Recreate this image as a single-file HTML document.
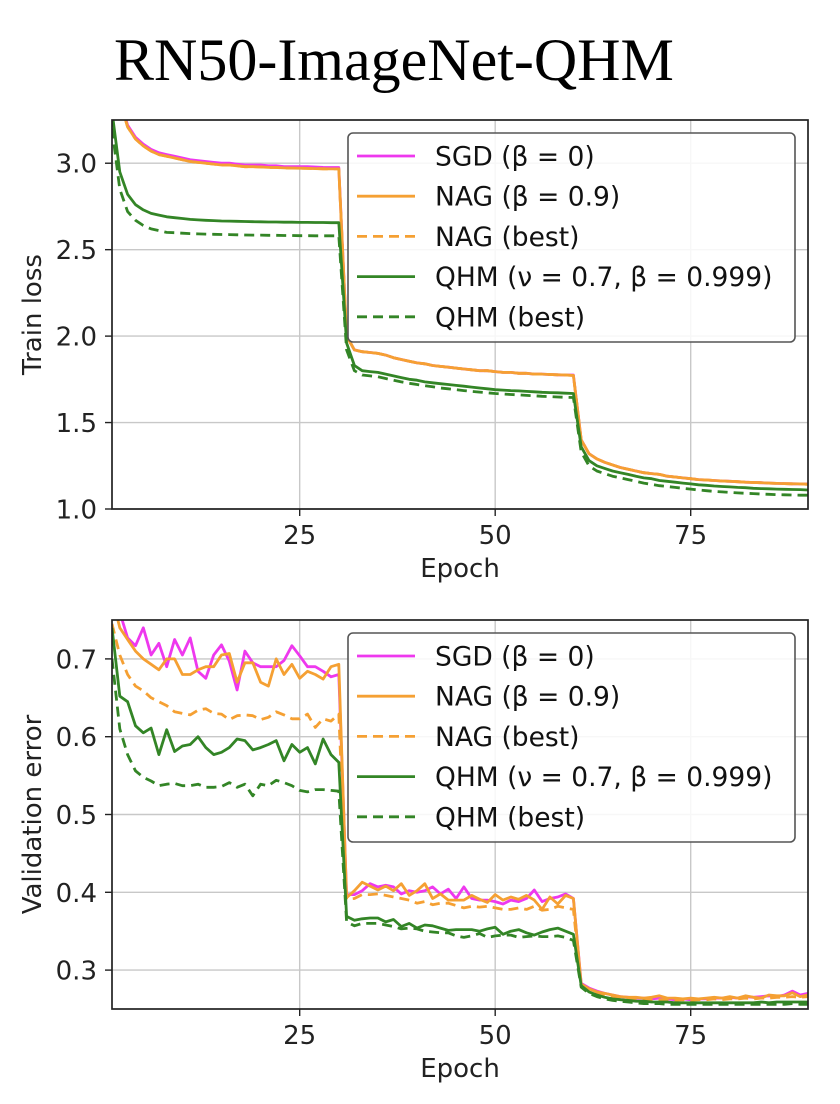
<!DOCTYPE html>
<html><head><meta charset="utf-8">
<style>
html,body{margin:0;padding:0;background:#fff;}
svg{display:block;font-family:"DejaVu Sans","Liberation Sans",sans-serif;}
</style></head>
<body>
<svg id="root" width="840" height="1104" viewBox="0 0 840 1104" xmlns="http://www.w3.org/2000/svg">
<text x="114" y="80" font-family="Liberation Serif, serif" font-size="60" fill="#000">RN50-ImageNet-QHM</text>
</svg>
<script>
const epochs = Array.from({length:90},(_,i)=>i+1);
const seriesNames = ["SGD (β = 0)","NAG (β = 0.9)","NAG (best)","QHM (ν = 0.7, β = 0.999)","QHM (best)"];
const trainTicks = [1.0,1.5,2.0,2.5,3.0];
const valTicks = [0.3,0.4,0.5,0.6,0.7];
const xTicks = [25,50,75];

const trainSGD = [3.9,3.38,3.22,3.15,3.11,3.08,3.06,3.05,3.04,3.03,3.02,3.015,3.01,3.005,3.0,3.0,2.995,2.99,2.99,2.99,2.985,2.985,2.98,2.98,2.98,2.98,2.978,2.976,2.975,2.975,
2.0,1.92,1.91,1.905,1.9,1.89,1.875,1.865,1.855,1.845,1.84,1.83,1.825,1.82,1.815,1.81,1.805,1.8,1.8,1.795,1.79,1.79,1.785,1.785,1.78,1.78,1.778,1.776,1.775,1.775,
1.4,1.32,1.29,1.27,1.255,1.24,1.23,1.22,1.21,1.205,1.2,1.19,1.185,1.18,1.175,1.17,1.168,1.165,1.162,1.16,1.158,1.155,1.153,1.152,1.15,1.148,1.147,1.146,1.145,1.145];
const trainNAG = [3.88,3.36,3.21,3.14,3.1,3.07,3.05,3.04,3.03,3.02,3.01,3.005,3.0,2.995,2.99,2.99,2.985,2.98,2.98,2.978,2.976,2.975,2.973,2.972,2.971,2.97,2.969,2.968,2.967,2.967,
2.0,1.92,1.91,1.905,1.9,1.89,1.875,1.865,1.855,1.845,1.84,1.83,1.825,1.82,1.815,1.81,1.805,1.8,1.8,1.795,1.79,1.79,1.785,1.785,1.78,1.78,1.778,1.776,1.775,1.772,
1.4,1.32,1.29,1.27,1.255,1.24,1.23,1.22,1.21,1.205,1.2,1.19,1.185,1.18,1.175,1.17,1.168,1.165,1.162,1.16,1.158,1.155,1.153,1.152,1.15,1.148,1.147,1.146,1.145,1.143];
const trainNAGBest = [3.88,3.36,3.21,3.14,3.1,3.07,3.05,3.04,3.03,3.02,3.01,3.005,3.0,2.995,2.99,2.99,2.985,2.98,2.98,2.978,2.976,2.975,2.973,2.972,2.971,2.97,2.969,2.968,2.967,2.967,
2.0,1.92,1.91,1.905,1.9,1.89,1.875,1.865,1.855,1.845,1.84,1.83,1.825,1.82,1.815,1.81,1.805,1.8,1.8,1.795,1.79,1.79,1.785,1.785,1.78,1.78,1.778,1.776,1.775,1.772,
1.4,1.32,1.29,1.27,1.255,1.24,1.23,1.22,1.21,1.205,1.2,1.19,1.185,1.18,1.175,1.17,1.168,1.165,1.162,1.16,1.158,1.155,1.153,1.152,1.15,1.148,1.147,1.146,1.145,1.143];
const trainQHM = [3.3,2.95,2.82,2.76,2.73,2.71,2.7,2.69,2.685,2.68,2.675,2.672,2.67,2.668,2.666,2.665,2.664,2.663,2.662,2.661,2.66,2.66,2.659,2.659,2.658,2.658,2.657,2.657,2.656,2.656,
1.96,1.83,1.8,1.795,1.79,1.78,1.77,1.76,1.75,1.745,1.735,1.73,1.725,1.72,1.715,1.71,1.705,1.7,1.695,1.69,1.688,1.685,1.683,1.68,1.678,1.675,1.673,1.672,1.67,1.668,
1.36,1.28,1.25,1.235,1.22,1.21,1.2,1.19,1.18,1.175,1.165,1.16,1.155,1.15,1.145,1.14,1.137,1.133,1.13,1.128,1.125,1.123,1.12,1.118,1.117,1.115,1.114,1.113,1.112,1.11];
const trainQHMBest = [3.2,2.85,2.72,2.67,2.64,2.62,2.61,2.6,2.598,2.595,2.593,2.591,2.59,2.589,2.588,2.587,2.586,2.585,2.584,2.584,2.583,2.583,2.582,2.582,2.581,2.581,2.58,2.58,2.58,2.58,
1.92,1.8,1.775,1.77,1.765,1.755,1.745,1.735,1.727,1.72,1.713,1.707,1.7,1.695,1.69,1.685,1.68,1.676,1.672,1.668,1.665,1.662,1.66,1.657,1.655,1.652,1.65,1.648,1.646,1.645,
1.33,1.25,1.22,1.205,1.19,1.18,1.17,1.16,1.15,1.142,1.135,1.13,1.125,1.12,1.115,1.11,1.106,1.102,1.099,1.096,1.093,1.091,1.089,1.087,1.085,1.083,1.082,1.081,1.08,1.08];

const valSGD = [0.8,0.76,0.727,0.717,0.74,0.705,0.72,0.69,0.725,0.705,0.727,0.684,0.675,0.705,0.718,0.697,0.66,0.71,0.695,0.69,0.69,0.69,0.698,0.717,0.704,0.69,0.69,0.684,0.677,0.68,
0.397,0.397,0.402,0.411,0.407,0.409,0.407,0.398,0.402,0.4,0.402,0.407,0.398,0.404,0.392,0.407,0.392,0.39,0.39,0.388,0.385,0.39,0.388,0.392,0.403,0.388,0.392,0.394,0.398,0.392,
0.283,0.277,0.273,0.27,0.268,0.266,0.265,0.264,0.264,0.263,0.264,0.263,0.262,0.263,0.262,0.263,0.263,0.264,0.264,0.265,0.264,0.266,0.265,0.266,0.267,0.266,0.268,0.273,0.268,0.27];
const valNAG = [0.78,0.74,0.725,0.71,0.7,0.693,0.686,0.7,0.7,0.68,0.68,0.686,0.69,0.69,0.705,0.707,0.67,0.695,0.695,0.67,0.665,0.7,0.68,0.693,0.675,0.684,0.68,0.674,0.69,0.693,
0.393,0.402,0.413,0.408,0.403,0.408,0.402,0.411,0.396,0.402,0.411,0.392,0.398,0.39,0.39,0.39,0.396,0.391,0.387,0.397,0.39,0.394,0.391,0.396,0.39,0.378,0.394,0.385,0.396,0.392,
0.282,0.276,0.272,0.27,0.268,0.266,0.265,0.265,0.264,0.265,0.267,0.264,0.264,0.263,0.264,0.263,0.264,0.265,0.264,0.266,0.264,0.267,0.265,0.264,0.268,0.267,0.267,0.271,0.266,0.268];
const valNAGBest = [0.745,0.705,0.68,0.665,0.659,0.65,0.645,0.64,0.632,0.63,0.628,0.634,0.636,0.63,0.629,0.622,0.627,0.628,0.627,0.622,0.625,0.632,0.628,0.623,0.623,0.629,0.612,0.623,0.62,0.629,
0.391,0.392,0.397,0.397,0.398,0.396,0.394,0.392,0.39,0.386,0.388,0.384,0.386,0.386,0.383,0.38,0.382,0.381,0.382,0.38,0.378,0.378,0.38,0.378,0.382,0.377,0.378,0.382,0.38,0.378,
0.28,0.274,0.27,0.268,0.266,0.265,0.264,0.263,0.263,0.262,0.262,0.262,0.261,0.262,0.261,0.262,0.262,0.263,0.262,0.263,0.263,0.264,0.263,0.264,0.264,0.265,0.265,0.266,0.265,0.266];
const valQHM = [0.74,0.652,0.645,0.614,0.605,0.611,0.577,0.609,0.581,0.588,0.59,0.6,0.586,0.577,0.58,0.586,0.597,0.595,0.583,0.586,0.59,0.595,0.569,0.59,0.58,0.586,0.565,0.597,0.577,0.567,
0.369,0.364,0.366,0.367,0.367,0.362,0.365,0.356,0.36,0.354,0.358,0.357,0.354,0.351,0.352,0.352,0.352,0.35,0.353,0.355,0.346,0.35,0.352,0.348,0.345,0.349,0.352,0.354,0.35,0.346,
0.28,0.272,0.268,0.265,0.263,0.262,0.261,0.26,0.26,0.259,0.259,0.259,0.258,0.258,0.258,0.258,0.258,0.258,0.258,0.258,0.258,0.258,0.258,0.259,0.258,0.259,0.259,0.259,0.259,0.259];
const valQHMBest = [0.7,0.61,0.577,0.556,0.548,0.543,0.537,0.539,0.54,0.537,0.537,0.539,0.535,0.535,0.536,0.541,0.535,0.539,0.524,0.539,0.537,0.544,0.541,0.537,0.531,0.529,0.532,0.532,0.531,0.53,
0.362,0.357,0.36,0.36,0.36,0.358,0.356,0.353,0.354,0.353,0.35,0.349,0.348,0.348,0.344,0.342,0.344,0.347,0.342,0.344,0.345,0.345,0.342,0.343,0.344,0.343,0.343,0.344,0.342,0.338,
0.278,0.27,0.266,0.263,0.261,0.26,0.259,0.258,0.257,0.257,0.257,0.256,0.256,0.256,0.256,0.256,0.256,0.256,0.256,0.256,0.256,0.256,0.256,0.256,0.256,0.256,0.256,0.257,0.256,0.256];

const NS="http://www.w3.org/2000/svg";
const root=document.getElementById('root');
function mk(tag,attrs,parent){const e=document.createElementNS(NS,tag);for(const k in attrs)e.setAttribute(k,attrs[k]);(parent||root).appendChild(e);return e;}

const colors=["#ee38ee","#f5a033","#f5a033","#338526","#338526"];
const dashes=["","","10,6","","10,6"];
const L=112,R=808;
function xs(e){return L+(e-1)*(R-L)/89;}

function chart(cfg){
  const g=mk('g',{});
  
  
  const T=cfg.top,B=cfg.bottom;
  const ys=v=>B-(v-cfg.ymin)*(B-T)/(cfg.ymax-cfg.ymin);
  const cid='clip-'+cfg.name;
  const cp=mk('clipPath',{id:cid},g);mk('rect',{x:L,y:T,width:R-L,height:B-T},cp);
  cfg.yticks.forEach(t=>{
    const gl=mk('line',{x1:L,x2:R,y1:ys(t),y2:ys(t),stroke:"#c8c8c8","stroke-width":1.4},g);
    
    
    mk('line',{x1:L-7,x2:L,y1:ys(t),y2:ys(t),stroke:"#222","stroke-width":1.4},g);
    const tx=mk('text',{x:L-15,y:ys(t)+9.5,"text-anchor":"end","font-size":26,fill:"#222"},g);
    tx.textContent=t.toFixed(1);
    
    
  });
  xTicks.forEach(t=>{
    const gl=mk('line',{x1:xs(t),x2:xs(t),y1:T,y2:B,stroke:"#c8c8c8","stroke-width":1.4},g);
    
    
    mk('line',{x1:xs(t),x2:xs(t),y1:B,y2:B+7,stroke:"#222","stroke-width":1.4},g);
    const tx=mk('text',{x:xs(t),y:B+35,"text-anchor":"middle","font-size":26,fill:"#222"},g);
    tx.textContent=t;
    
    
  });
  const lg=mk('g',{"clip-path":`url(#${cid})`},g);
  [0,1,2,3,4].forEach(i=>{
    const d=epochs.map((e,j)=>(j?'L':'M')+xs(e).toFixed(1)+','+ys(cfg.series[i][j]).toFixed(1)).join('');
    const p=mk('path',{d:d,fill:"none",stroke:colors[i],"stroke-width":2.8,"stroke-linejoin":"round"},lg);
    if(dashes[i])p.setAttribute('stroke-dasharray',dashes[i]);
    
    
  });
  mk('rect',{x:L,y:T,width:R-L,height:B-T,fill:"none",stroke:"#222","stroke-width":1.7},g);
  const xl=mk('text',{x:460,y:B+68,"text-anchor":"middle","font-size":26,fill:"#222"},g);
  xl.textContent="Epoch";
  
  
  const yl=mk('text',{x:0,y:0,"text-anchor":"middle","font-size":26,fill:"#222",transform:`translate(41,${(T+B)/2}) rotate(-90)`},g);
  yl.textContent=cfg.ylabel;
  
  
  const lgd=mk('g',{},g);
  
  
  mk('rect',{x:348,y:cfg.legTop,width:447,height:209,rx:5,fill:"#fff","fill-opacity":0.85,stroke:"#555","stroke-width":1.6},lgd);
  seriesNames.forEach((n,i)=>{
    const yy=cfg.legTop+23+i*40.2;
    const en=mk('g',{},lgd);
    
    
    const ln=mk('line',{x1:357,x2:415,y1:yy,y2:yy,stroke:colors[i],"stroke-width":2.8},en);
    if(dashes[i])ln.setAttribute('stroke-dasharray','10,6');
    const t=mk('text',{x:435,y:yy+9.5,"font-size":26.5,fill:"#111"},en);
    t.textContent=n;
  });
}
chart({name:'train-loss-chart',top:120,bottom:509,ymin:1.0,ymax:3.25,yticks:trainTicks,ylabel:'Train loss',legTop:133,
  series:[trainSGD,trainNAG,trainNAGBest,trainQHM,trainQHMBest]});
chart({name:'validation-error-chart',top:620,bottom:1009,ymin:0.25,ymax:0.75,yticks:valTicks,ylabel:'Validation error',legTop:633,
  series:[valSGD,valNAG,valNAGBest,valQHM,valQHMBest]});
</script>
</body></html>
